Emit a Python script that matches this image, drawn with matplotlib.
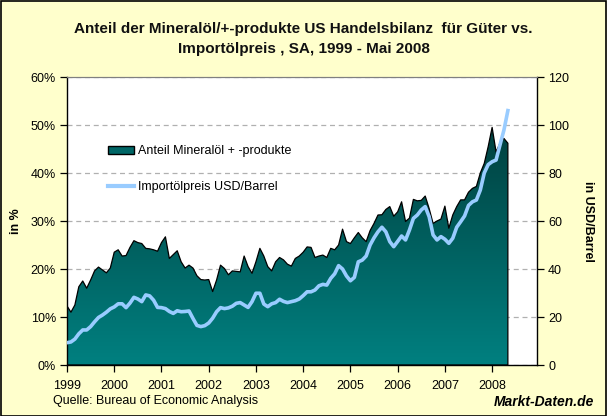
import numpy as np
import matplotlib
matplotlib.use("Agg")
import matplotlib.pyplot as plt
from matplotlib.colors import LinearSegmentedColormap
from matplotlib.patches import Rectangle, Patch
from matplotlib.lines import Line2D

plt.rcParams['font.family'] = ['Liberation Sans', 'DejaVu Sans']

# ---- data (monthly, Jan 1999 - May 2008) ----
share_pct = [
    12.3, 11.0, 12.5, 16.3, 17.5, 16.0, 17.7, 19.6, 20.4, 19.8, 19.2, 20.2,   # 1999
    23.5, 24.0, 22.7, 22.8, 24.5, 25.9, 25.5, 25.3, 24.3, 24.2, 24.0, 23.7,   # 2000
    25.5, 26.7, 22.2, 23.0, 23.8, 21.5, 20.2, 20.8, 20.2, 18.6, 17.8, 17.7,   # 2001
    17.8, 15.3, 17.7, 20.8, 20.1, 18.8, 19.6, 19.5, 19.4, 22.7, 20.5, 19.1,   # 2002
    21.5, 24.3, 22.7, 20.5, 19.6, 21.5, 22.4, 21.9, 21.0, 20.6, 22.2, 22.7,   # 2003
    23.5, 24.6, 24.5, 22.4, 22.7, 22.9, 22.4, 24.3, 24.0, 25.0, 28.3, 25.7,   # 2004
    25.3, 26.5, 27.6, 26.5, 25.7, 28.0, 29.5, 31.25, 31.3, 32.4, 33.0, 31.0,  # 2005
    31.9, 34.0, 29.9, 30.6, 34.5, 34.2, 34.3, 35.2, 32.6, 29.5, 30.0, 30.4,   # 2006
    33.1, 28.5, 31.25, 33.0, 34.4, 34.4, 36.0, 36.8, 37.2, 40.0, 42.0, 45.5,  # 2007
    49.5, 44.4, 46.2, 47.2, 46.2,                                             # 2008
]
oil_price = [
    9.3, 9.6, 10.8, 13.0, 14.6, 14.6, 16.0, 18.0, 19.8, 20.8, 22.0, 23.4,
    24.2, 25.5, 25.5, 23.9, 25.8, 28.2, 27.5, 26.4, 29.2, 28.8, 27.0, 24.0,
    23.9, 23.5, 22.3, 21.5, 22.6, 22.2, 22.3, 22.5, 19.4, 16.5, 16.0, 16.4,
    17.5, 19.5, 22.2, 23.9, 23.5, 23.8, 24.5, 25.7, 26.0, 25.0, 24.0, 26.4,
    29.9, 29.9, 25.4, 24.3, 25.5, 26.0, 27.4, 26.5, 26.0, 26.4, 26.8, 27.5,
    28.9, 30.5, 30.5, 31.25, 33.0, 33.6, 33.3, 36.1, 38.0, 41.4, 40.0, 37.1,
    35.1, 36.5, 43.0, 43.7, 45.4, 50.0, 53.0, 55.5, 57.4, 55.5, 51.4, 49.3,
    51.5, 53.75, 52.1, 56.25, 61.1, 62.5, 64.6, 66.0, 61.8, 54.2, 52.1, 53.5,
    52.4, 50.7, 52.8, 57.4, 59.7, 62.1, 66.5, 68.0, 68.75, 72.9, 80.0, 83.5,
    84.7, 85.4, 91.7, 97.9, 106.0,
]
year_labels = ['1999', '2000', '2001', '2002', '2003', '2004', '2005', '2006', '2007', '2008']
pct_ticks = [0, 10, 20, 30, 40, 50, 60]
usd_ticks = [0, 20, 40, 60, 80, 100, 120]
title = "Anteil der Mineralöl/+-produkte US Handelsbilanz  für Güter vs.\nImportölpreis , SA, 1999 - Mai 2008"
label_area = "Anteil Mineralöl + -produkte"
label_line = "Importölpreis USD/Barrel"

# ---- figure ----
W, H = 607, 416
fig = plt.figure(figsize=(W / 100, H / 100), dpi=100)
fig.patch.set_facecolor('#FFFFCC')
fig.patches.append(Rectangle((0.5 / W, 0.5 / H), 1 - 1.5 / W, 1 - 1.5 / H, transform=fig.transFigure,
                             fill=False, edgecolor='black', linewidth=1.2, zorder=10))

L, R, T, B = 67, 537, 77, 365
ax1 = fig.add_axes([L / W, 1 - B / H, (R - L) / W, (B - T) / H])
ax1.set_facecolor('white')
x = np.arange(len(share_pct))
y = np.array(share_pct)

# gradient fill for the area
poly = ax1.fill_between(x, 0, y, facecolor='none', edgecolor='black', linewidth=0.9, zorder=3)
cmap = LinearSegmentedColormap.from_list('tealgrad', ['#008080', '#00403F'])
grad = np.linspace(0, 1, 256).reshape(-1, 1)
im = ax1.imshow(grad, extent=[0, x[-1], 0, 50], origin='lower', aspect='auto', cmap=cmap, zorder=2,
                interpolation='bilinear')
path = poly.get_paths()[0]
im.set_clip_path(path, transform=ax1.transData)
ax1.set_xlim(0, 119.4)
ax1.set_ylim(0, 60)

ax1.set_yticks(pct_ticks)
ax1.set_yticklabels([f"{v}%" for v in pct_ticks])
ax1.set_xticks(np.arange(0, 120, 12))
ax1.set_xticklabels(year_labels)
ax1.yaxis.grid(True, linestyle=(0, (4, 3)), color='#B0B0B0', linewidth=0.9, zorder=1)
ax1.set_axisbelow(True)
ax1.tick_params(axis='both', direction='out', length=5, width=0.9, labelsize=9, colors='black', pad=3)
ax1.tick_params(axis='x', pad=6)
for s in ['left', 'bottom']:
    ax1.spines[s].set_color('black')
    ax1.spines[s].set_linewidth(1.0)
ax1.spines['top'].set_color('#808080')
ax1.spines['right'].set_visible(False)
ax1.set_ylabel('in %', fontsize=9, fontweight='bold', labelpad=6)

ax2 = ax1.twinx()
ax2.set_ylim(0, 120)
ax2.set_yticks(usd_ticks)
ax2.plot(x, oil_price, color='#99CCFF', linewidth=2.6, solid_joinstyle='round', zorder=5)
ax2.tick_params(axis='y', direction='out', length=5, width=0.9, labelsize=9, colors='black', pad=3)
ax2.spines['right'].set_color('black')
ax2.spines['right'].set_linewidth(1.0)
ax2.spines['top'].set_color('#808080')
ax2.spines['left'].set_visible(False)
ax2.spines['bottom'].set_visible(False)
ax2.set_ylabel('in USD/Barrel', fontsize=9, fontweight='bold', rotation=-90, labelpad=18)

handles = [Patch(facecolor='#006666', edgecolor='black', linewidth=1.0),
           Line2D([0], [0], color='#99CCFF', linewidth=3)]
leg = ax2.legend(handles, [label_area, label_line], loc='upper left',
                 bbox_to_anchor=(108 / W, 1 - 145 / H), bbox_transform=fig.transFigure,
                 frameon=False, fontsize=9, handlelength=2.1, handleheight=0.6,
                 handletextpad=0.3, labelspacing=1.9, borderpad=0, borderaxespad=0)

fig.text(0.5, 1 - 39 / H, title, ha='center', va='center', fontsize=11, fontweight='bold',
         linespacing=1.55, color='#111111')
fig.text(53 / W, 1 - 401 / H, 'Quelle: Bureau of Economic Analysis', ha='left', va='center', fontsize=9)
fig.text(594 / W, 1 - 402 / H, 'Markt-Daten.de', ha='right', va='center', fontsize=10,
         fontweight='bold', fontstyle='italic')

fig.savefig('out.png', dpi=100, facecolor=fig.get_facecolor())
